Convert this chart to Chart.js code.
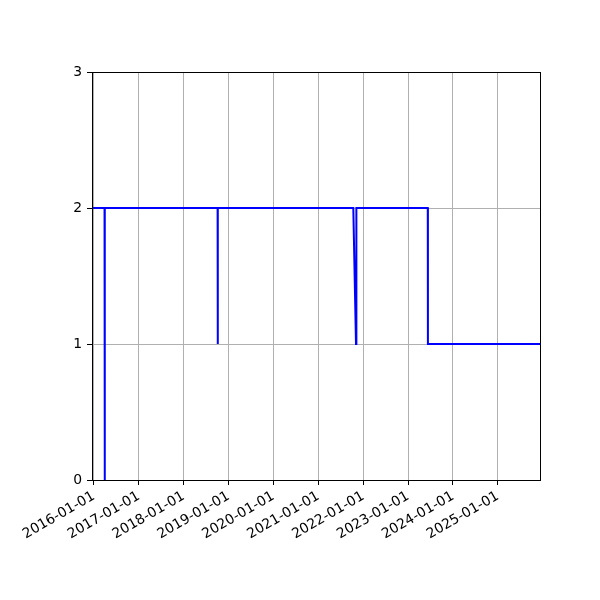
<!DOCTYPE html>
<html>
<head>
<meta charset="utf-8">
<script src="https://cdn.jsdelivr.net/npm/chart.js@4.4.1/dist/chart.umd.min.js"></script>
<style>
  html, body { margin: 0; padding: 0; background: #fff; }
  #chart { display: block; }
</style>
</head>
<body>
<canvas id="chart" width="600" height="600"></canvas>
<script>
// data (change points of the series)
var dates = ['2015-12-17', '2016-03-28', '2016-03-29', '2016-03-31',
             '2018-10-04', '2018-10-05', '2018-10-06',
             '2021-10-12', '2021-11-03', '2021-11-06',
             '2023-06-10', '2023-06-11', '2025-12-09'];
var values = [2, 2, 0, 2, 2, 1, 2, 2, 1, 2, 2, 1, 1];
var yearTicks = [2016, 2017, 2018, 2019, 2020, 2021, 2022, 2023, 2024, 2025];
var yTicks = [0, 1, 2, 3];

function toMs(s) {
  var p = s.split('-');
  return Date.UTC(+p[0], +p[1] - 1, +p[2]);
}
function pad(n) { return (n < 10 ? '0' : '') + n; }
function fmt(ms) {
  var d = new Date(ms);
  return d.getUTCFullYear() + '-' + pad(d.getUTCMonth() + 1) + '-' + pad(d.getUTCDate());
}

var points = dates.map(function (d, i) { return { x: toMs(d), y: values[i] }; });

var font = { family: 'DejaVu Sans', size: 13.9 };

// white background + full box round the axes
var frame = {
  id: 'frame',
  beforeDraw: function (chart) {
    var c = chart.ctx;
    c.save();
    c.fillStyle = '#fff';
    c.fillRect(0, 0, chart.width, chart.height);
    c.restore();
  },
  afterDatasetsDraw: function (chart) {
    var a = chart.chartArea, c = chart.ctx;
    c.save();
    c.strokeStyle = '#000';
    c.lineWidth = 1;
    c.strokeRect(Math.round(a.left) + 0.5, Math.round(a.top) + 0.5,
                 Math.round(a.right - a.left), Math.round(a.bottom - a.top));
    c.restore();
  }
};

new Chart(document.getElementById('chart'), {
  type: 'line',
  data: {
    datasets: [{
      data: points,
      borderColor: '#0000ff',
      borderWidth: 2,
      pointRadius: 0,
      tension: 0,
      fill: false
    }]
  },
  options: {
    responsive: false,
    animation: false,
    devicePixelRatio: 1,
    layout: { padding: { left: 0, top: 72, right: 60, bottom: 0 } },
    plugins: { legend: { display: false }, tooltip: { enabled: false } },
    scales: {
      x: {
        type: 'linear',
        min: points[0].x,
        max: points[points.length - 1].x,
        afterBuildTicks: function (scale) {
          scale.ticks = yearTicks.map(function (y) { return { value: Date.UTC(y, 0, 1) }; });
        },
        afterFit: function (scale) { scale.height = 120; },
        grid: { color: '#b0b0b0', lineWidth: 1, tickColor: '#000', tickLength: 5 },
        border: { display: false },
        ticks: {
          color: '#000',
          font: font,
          padding: 3,
          minRotation: 30,
          maxRotation: 30,
          autoSkip: false,
          callback: function (v) { return fmt(v); }
        }
      },
      y: {
        min: 0,
        max: 3,
        afterBuildTicks: function (scale) {
          scale.ticks = yTicks.map(function (v) { return { value: v }; });
        },
        afterFit: function (scale) { scale.width = 92; },
        grid: { color: '#b0b0b0', lineWidth: 1, tickColor: '#000', tickLength: 5 },
        border: { display: false },
        ticks: { color: '#000', font: font, padding: 5 }
      }
    }
  },
  plugins: [frame]
});
</script>
</body>
</html>
